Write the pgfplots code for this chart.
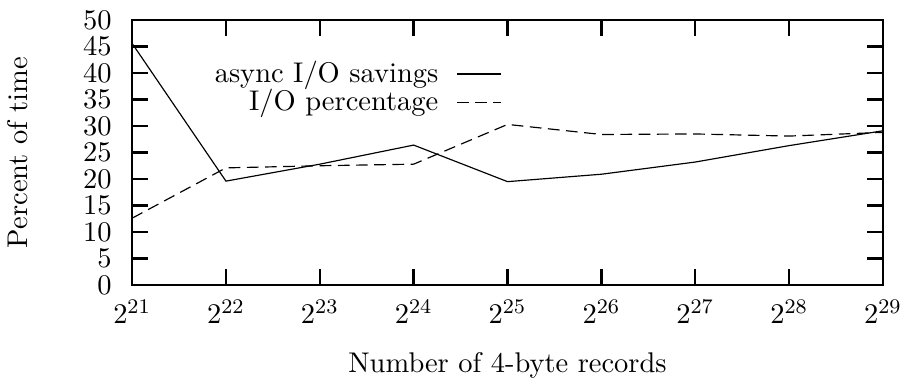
\documentclass[11pt,border=0pt]{standalone}
\usepackage{pgfplots}
\pgfplotsset{compat=1.18}
\begin{document}
\begin{tikzpicture}
\begin{axis}[
  name=ax,
  scale only axis,
  width=288.8pt, height=101.9pt,
  xmin=21, xmax=29, ymin=0, ymax=50,
  xtick={21,22,23,24,25,26,27,28,29},
  ytick={0,5,10,15,20,25,30,35,40,45,50},
  xticklabel={$2^{\pgfmathprintnumber{\tick}}$},
  yticklabel style={xshift=-4pt},
  xticklabel style={yshift=-2pt},
  tick align=inside,
  major tick length=6pt,
  tick style={line width=0.9pt, black},
  axis line style={line width=0.9pt},
  axis lines*=box,
  xlabel={Number of 4-byte records},
  ylabel={Percent of time},
  every axis x label/.style={at={(axis description cs:0.5,-0.302)}, anchor=center},
  every axis y label/.style={at={(axis description cs:-0.152,0.5)}, anchor=center, rotate=90},
  legend style={at={(axis cs:25.03,44.3)}, anchor=north east, draw=none, fill=none,
    row sep=-3pt},
  legend cell align=right,
  legend plot pos=right,
]
\addplot[black, line width=0.45pt] coordinates {
(21,45.6) (22,19.6) (23,22.8) (24,26.4) (25,19.5) (26,20.9) (27,23.2) (28,26.3) (29,29.1)};
\addlegendentry{async I/O savings\rule{5pt}{0pt}}
\addplot[black, line width=0.45pt, dash pattern=on 4.5pt off 2.5pt] coordinates {
(21,12.6) (22,22.1) (23,22.5) (24,22.8) (25,30.3) (26,28.4) (27,28.5) (28,28.1) (29,28.8)};
\addlegendentry{I/O percentage\rule{5pt}{0pt}}
\end{axis}
\pgfresetboundingbox
\path[use as bounding box] ([shift={(-50.8pt,-35.4pt)}]ax.south west) rectangle ([shift={(7.7pt,7.7pt)}]ax.north east);
\end{tikzpicture}
\end{document}
